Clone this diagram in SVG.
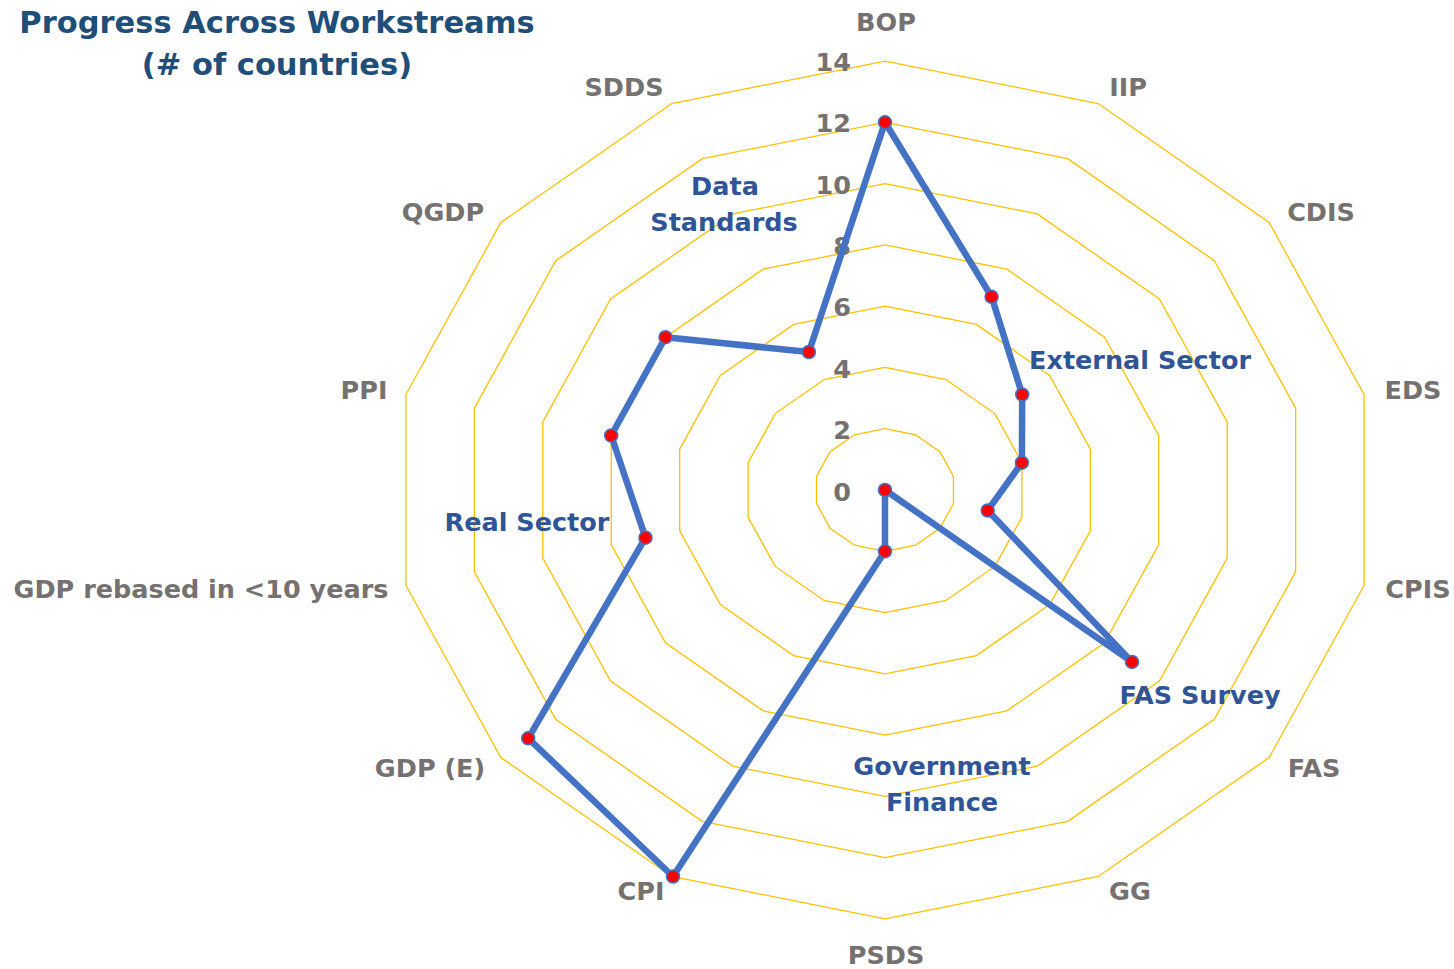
<svg xmlns="http://www.w3.org/2000/svg" width="1454" height="969" viewBox="0 0 1454 969">
<style>
.ring{fill:none;stroke:#FFC000;stroke-width:1.3;vector-effect:non-scaling-stroke}
.ax{font-family:"DejaVu Sans",sans-serif;font-weight:700;font-size:25.5px;fill:#767171;text-anchor:middle}
.tk{font-family:"DejaVu Sans",sans-serif;font-weight:700;font-size:25.5px;fill:#767171;text-anchor:end}
.an{font-family:"DejaVu Sans",sans-serif;font-weight:700;font-size:25.5px;fill:#2F5597;text-anchor:middle}
.ti{font-family:"DejaVu Sans",sans-serif;font-weight:700;font-size:30.5px;fill:#1F4E79;text-anchor:middle}
.dl{fill:none;stroke:#4472C4;stroke-width:6.5;stroke-linejoin:round}
.mk{fill:#FF0000;stroke:#4472C4;stroke-width:1.5}
</style>
<rect width="1454" height="969" fill="#FFFFFF"/>
<g id="grid">
<polygon class="ring" vector-effect="non-scaling-stroke" transform="translate(885,490) scale(70.2,61.28)" points="0,-1 0.43388,-0.90097 0.78183,-0.62349 0.97493,-0.22252 0.97493,0.22252 0.78183,0.62349 0.43388,0.90097 0,1 -0.43388,0.90097 -0.78183,0.62349 -0.97493,0.22252 -0.97493,-0.22252 -0.78183,-0.62349 -0.43388,-0.90097"/>
<polygon class="ring" vector-effect="non-scaling-stroke" transform="translate(885,490) scale(140.4,122.56)" points="0,-1 0.43388,-0.90097 0.78183,-0.62349 0.97493,-0.22252 0.97493,0.22252 0.78183,0.62349 0.43388,0.90097 0,1 -0.43388,0.90097 -0.78183,0.62349 -0.97493,0.22252 -0.97493,-0.22252 -0.78183,-0.62349 -0.43388,-0.90097"/>
<polygon class="ring" vector-effect="non-scaling-stroke" transform="translate(885,490) scale(210.6,183.84)" points="0,-1 0.43388,-0.90097 0.78183,-0.62349 0.97493,-0.22252 0.97493,0.22252 0.78183,0.62349 0.43388,0.90097 0,1 -0.43388,0.90097 -0.78183,0.62349 -0.97493,0.22252 -0.97493,-0.22252 -0.78183,-0.62349 -0.43388,-0.90097"/>
<polygon class="ring" vector-effect="non-scaling-stroke" transform="translate(885,490) scale(280.8,245.12)" points="0,-1 0.43388,-0.90097 0.78183,-0.62349 0.97493,-0.22252 0.97493,0.22252 0.78183,0.62349 0.43388,0.90097 0,1 -0.43388,0.90097 -0.78183,0.62349 -0.97493,0.22252 -0.97493,-0.22252 -0.78183,-0.62349 -0.43388,-0.90097"/>
<polygon class="ring" vector-effect="non-scaling-stroke" transform="translate(885,490) scale(351,306.4)" points="0,-1 0.43388,-0.90097 0.78183,-0.62349 0.97493,-0.22252 0.97493,0.22252 0.78183,0.62349 0.43388,0.90097 0,1 -0.43388,0.90097 -0.78183,0.62349 -0.97493,0.22252 -0.97493,-0.22252 -0.78183,-0.62349 -0.43388,-0.90097"/>
<polygon class="ring" vector-effect="non-scaling-stroke" transform="translate(885,490) scale(421.2,367.68)" points="0,-1 0.43388,-0.90097 0.78183,-0.62349 0.97493,-0.22252 0.97493,0.22252 0.78183,0.62349 0.43388,0.90097 0,1 -0.43388,0.90097 -0.78183,0.62349 -0.97493,0.22252 -0.97493,-0.22252 -0.78183,-0.62349 -0.43388,-0.90097"/>
<polygon class="ring" vector-effect="non-scaling-stroke" transform="translate(885,490) scale(491.4,428.96)" points="0,-1 0.43388,-0.90097 0.78183,-0.62349 0.97493,-0.22252 0.97493,0.22252 0.78183,0.62349 0.43388,0.90097 0,1 -0.43388,0.90097 -0.78183,0.62349 -0.97493,0.22252 -0.97493,-0.22252 -0.78183,-0.62349 -0.43388,-0.90097"/>
</g>
<g id="title">
<text class="ti" x="277" y="33">Progress Across Workstreams</text>
<text class="ti" x="277" y="75">(# of countries)</text>
</g>
<g id="ticks">
<text class="tk" x="851" y="501">0</text>
<text class="tk" x="851" y="439">2</text>
<text class="tk" x="851" y="378">4</text>
<text class="tk" x="851" y="316">6</text>
<text class="tk" x="851" y="255">8</text>
<text class="tk" x="851" y="194">10</text>
<text class="tk" x="851" y="132">12</text>
<text class="tk" x="851" y="71">14</text>
</g>
<g id="axis-labels">
<text class="ax" x="886" y="31">BOP</text>
<text class="ax" x="1128" y="96">IIP</text>
<text class="ax" x="1321" y="221">CDIS</text>
<text class="ax" x="1413" y="399">EDS</text>
<text class="ax" x="1418" y="598">CPIS</text>
<text class="ax" x="1314" y="777">FAS</text>
<text class="ax" x="1130" y="900">GG</text>
<text class="ax" x="886" y="964">PSDS</text>
<text class="ax" x="641" y="900">CPI</text>
<text class="ax" x="430" y="777">GDP (E)</text>
<text class="ax" x="201" y="598">GDP rebased in &lt;10 years</text>
<text class="ax" x="364" y="399">PPI</text>
<text class="ax" x="443" y="221">QGDP</text>
<text class="ax" x="624" y="96">SDDS</text>
</g>
<g id="connectors">
<polygon class="dl" points="885,122.3 991.6,296.8 1022.2,394.5 1021.9,462.7 987.7,510.5 1132,661.9 885,490 885,551.3 673,876.5 528.2,738.3 645.5,537.7 611.2,435.5 665.5,337.2 808.9,352"/>
</g>
<g id="markers">
<circle class="mk" cx="885" cy="122.3" r="6.5"/>
<circle class="mk" cx="991.6" cy="296.8" r="6.5"/>
<circle class="mk" cx="1022.2" cy="394.5" r="6.5"/>
<circle class="mk" cx="1021.9" cy="462.7" r="6.5"/>
<circle class="mk" cx="987.7" cy="510.5" r="6.5"/>
<circle class="mk" cx="1132" cy="661.9" r="6.5"/>
<circle class="mk" cx="885" cy="490" r="6.5"/>
<circle class="mk" cx="885" cy="551.3" r="6.5"/>
<circle class="mk" cx="673" cy="876.5" r="6.5"/>
<circle class="mk" cx="528.2" cy="738.3" r="6.5"/>
<circle class="mk" cx="645.5" cy="537.7" r="6.5"/>
<circle class="mk" cx="611.2" cy="435.5" r="6.5"/>
<circle class="mk" cx="665.5" cy="337.2" r="6.5"/>
<circle class="mk" cx="808.9" cy="352" r="6.5"/>
</g>
<g id="annotations">
<text class="an" x="725" y="195">Data</text>
<text class="an" x="724" y="231">Standards</text>
<text class="an" x="1140" y="369">External Sector</text>
<text class="an" x="527" y="531">Real Sector</text>
<text class="an" x="1200" y="704">FAS Survey</text>
<text class="an" x="942" y="775">Government</text>
<text class="an" x="942" y="811">Finance</text>
</g>
</svg>
